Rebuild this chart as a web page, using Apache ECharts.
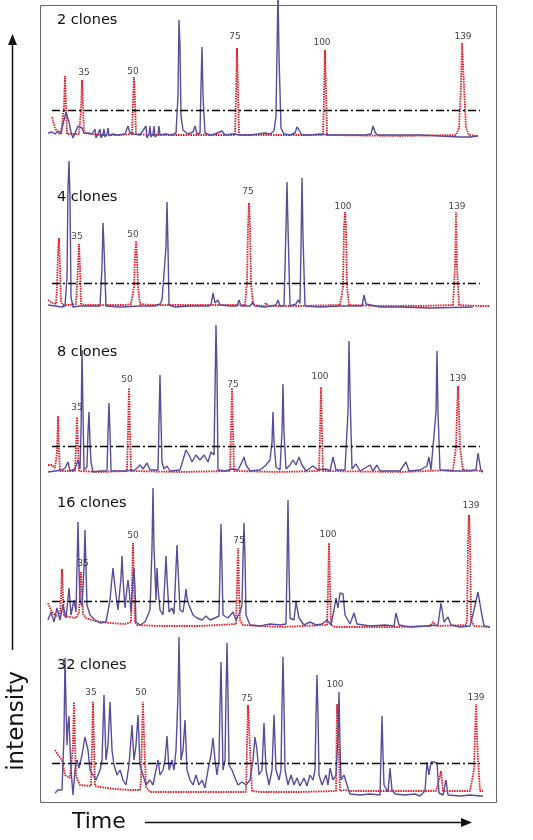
<!DOCTYPE html>
<html><head><meta charset="utf-8">
<script src="https://cdn.jsdelivr.net/npm/echarts@6/dist/echarts.min.js"></script>
<style>html,body{margin:0;padding:0;background:#fff}#chart{width:533px;height:840px}</style>
</head><body><div id="chart"></div>
<script>
// ---- data (time in scan units, intensity relative to panel baseline) ----
const panelNames = ['2 clones', '4 clones', '8 clones', '16 clones', '32 clones'];
const sizeStandard = ['35', '50', '75', '100', '139'];
const thresholds = [26, 24, 26, 27, 32];

const sample1 = [[48,3],[52,4],[55,2],[58,5],[61,3],[63,12],[65,20],[66,24],[67,22],[69,14],[71,4],[73,-2],[75,3],[78,10],[80,11],[82,8],[84,3],[88,3],[92,2],[95,7],[96,-2],[98,2],[100,7],[101,-2],[103,2],[104,7],[105,-1],[107,2],[108,8],[109,0],[112,2],[118,1],[125,2],[128,10],[130,3],[134,2],[140,1],[146,10],[147,-2],[149,2],[150,10],[151,-1],[153,2],[154,10],[155,-1],[158,2],[159,10],[160,1],[165,2],[172,1],[176,3],[178,40],[179,116],[180,90],[181,20],[183,6],[188,2],[193,4],[195,10],[197,2],[200,3],[201,50],[202,89],[203,40],[205,3],[210,1],[215,2],[222,5],[225,1],[232,2],[240,1],[250,1],[258,2],[265,3],[270,2],[274,5],[276,20],[278,145],[279,80],[281,8],[284,2],[290,1],[295,3],[297,9],[299,6],[302,1],[310,1],[320,2],[330,1],[350,1],[365,1],[371,2],[373,10],[375,4],[377,1],[390,1],[401,1],[403,3],[405,1],[416,1],[418,3],[420,1],[440,0],[460,-1],[470,-1],[477,0]];
const ladder1 = [[52,19],[53,17],[55,8],[58,3],[61,2],[63,2],[64,30],[65,60],[66,30],[67,2],[72,2],[79,2],[81,25],[82,56],[83,30],[84,3],[86,2],[100,1],[120,1],[132,2],[133,35],[134,59],[135,35],[136,2],[150,1],[200,1],[235,1],[236,40],[237,88],[238,45],[239,1],[280,1],[323,1],[324,40],[325,86],[326,45],[327,1],[400,0],[456,1],[459,8],[461,50],[462,93],[463,93],[464,50],[466,8],[469,1],[478,0]];
const labels1 = [[84,63],[133,64],[235,99],[322,93],[463,99]];

const sample2 = [[48,2],[55,1],[62,0],[65,1],[67,30],[68,120],[69,146],[70,110],[71,10],[73,0],[80,1],[90,1],[100,1],[102,40],[103,84],[104,60],[106,1],[120,0],[140,1],[155,1],[160,3],[162,7],[164,5],[166,60],[167,105],[168,60],[169,2],[175,0],[190,1],[200,1],[208,1],[211,2],[213,14],[215,4],[217,3],[218,7],[220,2],[230,1],[237,1],[239,7],[241,1],[250,1],[253,5],[255,1],[265,0],[276,2],[278,7],[280,1],[284,1],[286,80],[287,125],[288,80],[290,1],[296,3],[298,7],[300,4],[301,60],[302,129],[303,70],[305,1],[320,0],[340,1],[362,1],[364,12],[366,3],[368,1],[380,0],[400,0],[430,-1],[473,0]];
const ladder2 = [[48,7],[52,4],[56,3],[57,20],[58,55],[59,69],[60,40],[61,5],[63,2],[70,2],[76,3],[78,40],[79,63],[80,40],[81,3],[85,2],[100,2],[125,2],[131,3],[134,20],[135,50],[136,66],[137,50],[138,20],[140,3],[150,2],[200,2],[245,2],[247,25],[248,80],[249,104],[250,80],[251,25],[253,2],[264,1],[266,4],[268,1],[300,1],[340,2],[343,20],[344,80],[345,95],[346,80],[347,20],[349,2],[380,1],[420,1],[453,2],[455,40],[456,95],[457,40],[459,2],[480,1],[490,1]];
const labels2 = [[77,70],[133,72],[248,115],[343,100],[457,100]];

const sample3 = [[48,0],[55,1],[62,2],[65,4],[68,10],[70,1],[75,3],[78,12],[80,3],[81,40],[82,122],[83,60],[84,2],[87,5],[88,40],[89,60],[90,30],[91,10],[93,0],[100,1],[107,1],[108,40],[109,69],[110,40],[111,1],[125,1],[135,2],[140,7],[143,3],[147,9],[150,2],[158,2],[159,50],[160,97],[161,50],[162,10],[164,3],[167,6],[170,1],[180,2],[183,12],[186,22],[189,17],[192,10],[196,17],[200,12],[204,17],[208,10],[211,20],[214,17],[215,80],[216,147],[217,100],[218,2],[225,1],[232,3],[238,2],[242,10],[244,15],[246,7],[250,1],[260,2],[266,7],[270,12],[272,30],[273,60],[274,30],[276,5],[280,2],[282,40],[283,88],[284,40],[286,3],[290,7],[293,12],[296,7],[299,15],[302,7],[306,1],[313,6],[318,2],[326,3],[330,1],[333,15],[336,2],[345,2],[348,60],[349,131],[350,80],[352,3],[356,8],[360,1],[370,7],[373,1],[377,7],[380,1],[400,1],[406,10],[409,1],[420,2],[427,6],[429,15],[431,2],[436,60],[437,121],[438,60],[440,2],[450,1],[458,1],[470,1],[476,2],[478,19],[481,1],[483,0]];
const ladder3 = [[48,7],[52,7],[55,4],[57,20],[58,56],[59,20],[60,1],[70,1],[75,1],[76,25],[77,55],[78,25],[79,1],[100,0],[127,1],[128,40],[129,84],[130,40],[131,1],[180,0],[230,1],[231,40],[232,84],[233,40],[234,1],[280,0],[319,1],[320,40],[321,85],[322,40],[323,1],[400,0],[453,2],[456,25],[457,60],[458,86],[459,60],[460,25],[463,2],[483,1]];
const labels3 = [[77,64],[127,92],[233,87],[320,95],[458,93]];

const sample4 = [[48,8],[51,16],[54,6],[57,20],[60,8],[63,23],[66,10],[69,40],[71,13],[74,28],[76,16],[77,60],[78,106],[79,60],[80,28],[82,22],[84,60],[85,98],[86,60],[87,23],[90,13],[95,8],[100,5],[106,6],[110,28],[112,50],[113,60],[114,50],[116,33],[118,18],[121,50],[122,72],[123,50],[125,20],[127,40],[128,48],[129,40],[131,16],[133,50],[134,60],[135,40],[136,6],[140,3],[145,6],[150,18],[152,80],[153,140],[154,80],[156,28],[157,60],[158,40],[160,18],[163,13],[165,50],[166,72],[167,50],[169,16],[172,20],[174,14],[176,60],[177,83],[178,60],[180,18],[183,16],[185,30],[186,39],[187,30],[189,23],[193,13],[197,10],[202,8],[206,12],[210,8],[215,10],[219,12],[220,60],[221,104],[222,60],[223,13],[228,10],[233,16],[236,8],[240,16],[242,23],[243,70],[244,105],[245,70],[246,13],[250,3],[260,2],[270,4],[280,3],[286,4],[287,60],[288,128],[289,60],[290,10],[294,8],[296,26],[299,10],[304,3],[310,6],[316,3],[322,4],[327,8],[331,3],[334,18],[336,30],[338,20],[340,35],[343,34],[345,13],[350,4],[354,15],[357,4],[370,2],[385,3],[394,2],[396,15],[399,3],[410,1],[425,2],[438,3],[441,25],[444,6],[448,11],[451,3],[460,1],[470,2],[474,18],[478,36],[481,18],[484,2],[490,1]];
const ladder4 = [[48,25],[52,16],[56,12],[60,14],[61,30],[62,59],[63,30],[64,12],[70,11],[76,10],[79,16],[80,35],[81,56],[82,35],[83,14],[86,10],[95,7],[110,5],[125,4],[131,6],[132,40],[133,85],[134,40],[135,6],[137,3],[160,2],[200,2],[236,4],[237,40],[238,80],[239,40],[240,8],[243,3],[280,1],[327,3],[328,40],[329,85],[330,40],[331,3],[335,1],[400,1],[430,2],[433,6],[436,2],[466,3],[467,8],[468,88],[469,113],[470,88],[471,8],[474,2],[490,1]];
const labels4 = [[83,64],[133,92],[239,87],[328,93],[471,122]];

const sample5 = [[55,2],[58,5],[62,5],[64,60],[65,137],[66,90],[67,50],[68,70],[69,79],[70,50],[71,25],[73,0],[75,25],[77,35],[79,27],[82,40],[85,58],[88,45],[90,25],[93,20],[96,15],[100,25],[102,35],[104,100],[106,35],[108,50],[110,93],[112,45],[114,30],[117,20],[120,25],[123,15],[126,10],[129,30],[132,70],[134,35],[136,50],[138,80],[140,30],[143,20],[146,10],[150,15],[153,10],[156,25],[158,35],[160,20],[163,25],[165,35],[167,59],[169,25],[172,35],[174,25],[176,45],[178,100],[179,158],[180,100],[181,35],[183,45],[185,75],[187,25],[190,15],[193,10],[196,20],[199,10],[202,15],[205,7],[208,25],[211,40],[213,57],[215,35],[217,20],[219,35],[220,90],[221,133],[222,80],[223,25],[225,35],[226,100],[227,152],[228,100],[229,30],[232,25],[235,17],[238,10],[242,13],[246,10],[250,15],[253,35],[255,58],[257,45],[259,20],[262,25],[264,72],[266,25],[269,10],[272,25],[274,80],[276,25],[279,15],[281,25],[282,90],[283,138],[284,90],[285,25],[288,10],[291,20],[294,10],[297,17],[300,9],[304,17],[307,9],[310,20],[313,15],[315,25],[316,80],[317,120],[318,80],[319,20],[322,10],[326,20],[328,10],[330,27],[333,15],[336,20],[338,60],[339,103],[340,50],[341,15],[344,20],[347,10],[350,1],[360,0],[370,1],[380,0],[381,40],[382,79],[383,40],[384,10],[388,3],[390,27],[392,5],[395,1],[405,0],[415,1],[420,-1],[425,4],[427,33],[429,20],[431,33],[434,33],[437,32],[439,2],[443,0],[446,15],[448,0],[460,-1],[470,0],[480,-1],[483,-1]];
const ladder5 = [[55,45],[58,40],[62,35],[65,20],[70,17],[72,18],[73,50],[74,93],[75,50],[76,20],[78,14],[80,10],[91,9],[92,50],[93,93],[94,50],[95,9],[100,8],[115,6],[130,5],[140,5],[141,15],[142,60],[143,93],[144,60],[145,35],[146,8],[150,3],[170,3],[200,3],[246,3],[247,50],[248,90],[249,70],[250,45],[252,4],[260,3],[300,3],[336,4],[337,91],[338,75],[339,40],[340,4],[345,5],[350,4],[400,4],[436,4],[439,15],[441,24],[443,4],[470,4],[474,25],[475,60],[476,91],[477,60],[478,35],[480,4],[483,4]];
const labels5 = [[91,102],[141,102],[247,96],[335,110],[476,97]];

const samples = [sample1, sample2, sample3, sample4, sample5];
const ladders = [ladder1, ladder2, ladder3, ladder4, ladder5];
const labelSpots = [labels1, labels2, labels3, labels4, labels5];

// ---- layout ----
const layout = [
  {top: 0, height: 150, min: -14, max: 136, titleTop: 13},
  {top: 155, height: 160, min: -8, max: 152, titleTop: 190},
  {top: 318, height: 160, min: -6, max: 154, titleTop: 345},
  {top: 480, height: 155, min: -7, max: 148, titleTop: 496},
  {top: 635, height: 165, min: -5, max: 160, titleTop: 658}
];
const PURPLE = '#5a4b9b', RED = '#e3141e';

const grid = [], xAxis = [], yAxis = [], series = [], title = [];
layout.forEach((L, i) => {
  grid.push({left: 40, width: 456, top: L.top, height: L.height});
  xAxis.push({type: 'value', gridIndex: i, min: 40, max: 496, show: false});
  yAxis.push({type: 'value', gridIndex: i, min: L.min, max: L.max, show: false});
  title.push({text: panelNames[i], left: 57, top: L.titleTop, padding: 0,
    textStyle: {fontFamily: 'DejaVu Sans', fontSize: 14.5, fontWeight: 'normal', color: '#111'}});
  series.push({
    type: 'line', xAxisIndex: i, yAxisIndex: i, data: ladders[i], symbol: 'none', showSymbol: false,
    lineStyle: {color: RED, width: 1.8, type: [1.5, 1]}, z: 2, silent: true,
    markLine: {symbol: 'none', silent: true, label: {show: false},
      lineStyle: {color: '#000', width: 1.3, type: [8, 3, 2, 3]},
      data: [[{coord: [52, thresholds[i]]}, {coord: [480, thresholds[i]]}]]}
  });
  series.push({
    type: 'line', xAxisIndex: i, yAxisIndex: i, data: samples[i], symbol: 'none', showSymbol: false,
    lineStyle: {color: PURPLE, width: 1.4}, z: 3, silent: true
  });
  series.push({
    type: 'scatter', xAxisIndex: i, yAxisIndex: i, symbolSize: 1, silent: true, z: 4,
    itemStyle: {color: 'rgba(0,0,0,0)'},
    data: labelSpots[i].map((p, k) => [p[0], p[1], sizeStandard[k]]),
    label: {show: true, position: 'inside', formatter: p => p.data[2],
      fontFamily: 'DejaVu Sans', fontSize: 9, color: '#111'}
  });
});

const chart = echarts.init(document.getElementById('chart'), null, {renderer: 'canvas'});
chart.setOption({
  animation: false,
  backgroundColor: '#fff',
  title, grid, xAxis, yAxis, series,
  graphic: [
    {type: 'rect', shape: {x: 40.5, y: 5.5, width: 456, height: 797}, style: {fill: 'none', stroke: '#666', lineWidth: 1}, z: 10, silent: true},
    {type: 'line', shape: {x1: 12.5, y1: 650, x2: 12.5, y2: 42}, style: {stroke: '#111', lineWidth: 1.5}, silent: true},
    {type: 'polygon', shape: {points: [[12.5, 34], [8, 45], [17, 45]]}, style: {fill: '#111'}, silent: true},
    {type: 'text', x: 17, y: 721, rotation: Math.PI / 2,
      style: {text: 'intensity', font: '23px "DejaVu Sans"', fontSize: 23, fontFamily: 'DejaVu Sans', align: 'center', verticalAlign: 'middle', textAlign: 'center', textVerticalAlign: 'middle', fill: '#111'}, silent: true},
    {type: 'text', x: 72, y: 822,
      style: {text: 'Time', font: '22px "DejaVu Sans"', fontSize: 22, fontFamily: 'DejaVu Sans', align: 'left', verticalAlign: 'middle', textAlign: 'left', textVerticalAlign: 'middle', fill: '#111'}, silent: true},
    {type: 'line', shape: {x1: 145, y1: 822.5, x2: 463, y2: 822.5}, style: {stroke: '#111', lineWidth: 1.5}, silent: true},
    {type: 'polygon', shape: {points: [[472, 822.5], [461, 818], [461, 827]]}, style: {fill: '#111'}, silent: true}
  ]
});
</script>
</body></html>
